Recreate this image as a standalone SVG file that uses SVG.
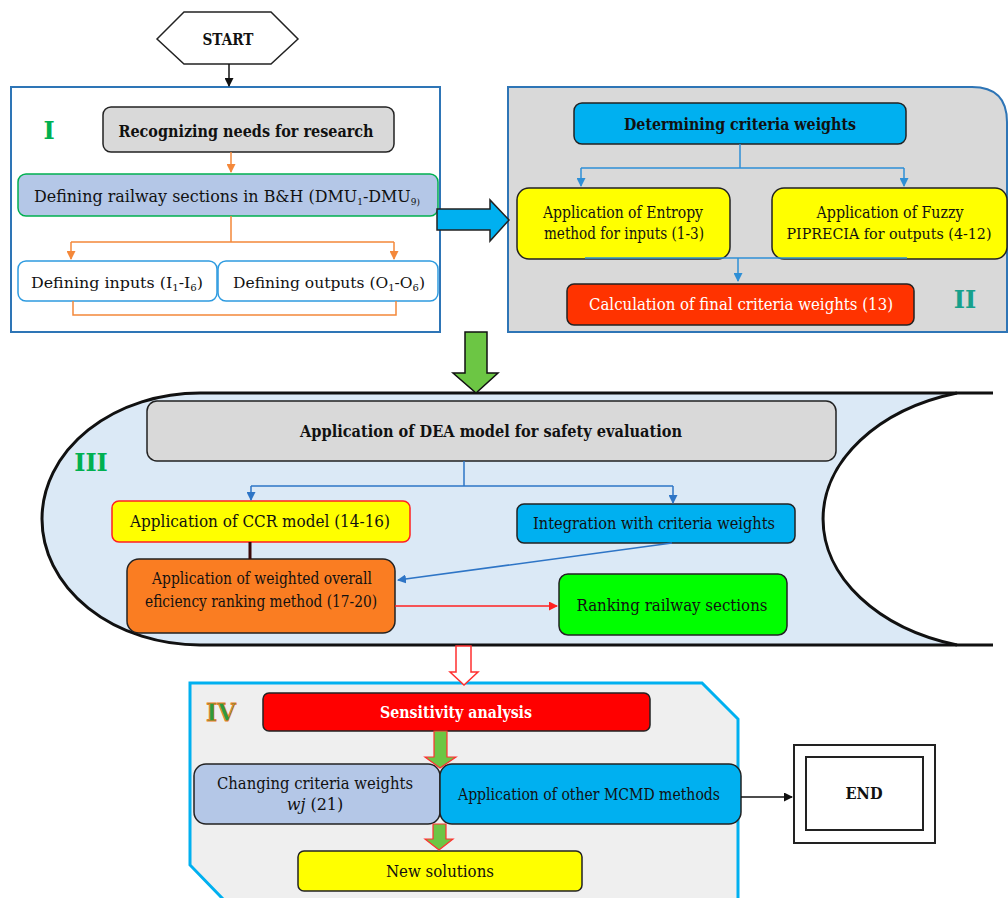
<svg xmlns="http://www.w3.org/2000/svg" width="1008" height="898" viewBox="0 0 1008 898">
<defs>
<style>
text{font-family:"DejaVu Serif","Liberation Serif",serif;font-size:16px;fill:#111;text-anchor:middle}
.b{font-weight:bold}
.s{font-size:14px}
.box{stroke:#222;stroke-width:1.5}
.lbl{font-size:24px;font-weight:bold}
.oc{fill:none;stroke:#f4883a;stroke-width:1.5}
.bc{fill:none;stroke:#2e8fd6;stroke-width:1.5}
.dc{fill:none;stroke:#2e75c6;stroke-width:1.5}
</style>
<marker id="mo" markerUnits="userSpaceOnUse" markerWidth="9" markerHeight="9" refX="8" refY="4.5" orient="auto"><path d="M0,0 L9,4.5 L0,9 z" fill="#f4883a"/></marker>
<marker id="mb" markerUnits="userSpaceOnUse" markerWidth="9" markerHeight="9" refX="8" refY="4.5" orient="auto"><path d="M0,0 L9,4.5 L0,9 z" fill="#2e8fd6"/></marker>
<marker id="md" markerUnits="userSpaceOnUse" markerWidth="9" markerHeight="9" refX="8" refY="4.5" orient="auto"><path d="M0,0 L9,4.5 L0,9 z" fill="#2e75c6"/></marker>
<marker id="mk" markerUnits="userSpaceOnUse" markerWidth="9" markerHeight="9" refX="8" refY="4.5" orient="auto"><path d="M0,0 L9,4.5 L0,9 z" fill="#111"/></marker>
<marker id="mr" markerUnits="userSpaceOnUse" markerWidth="9" markerHeight="9" refX="8" refY="4.5" orient="auto"><path d="M0,0 L9,4.5 L0,9 z" fill="#ff2020"/></marker>
</defs>

<!-- Panels -->
<g id="panel-I">
<rect x="11" y="87" width="429" height="245" fill="#fff" stroke="#2e75b6" stroke-width="2"/>
<text class="lbl" x="49" y="139" style="fill:#00b050">I</text>
</g>
<g id="panel-II">
<path d="M508 87 H972 Q1007 87 1007 122 V332 H508 Z" fill="#d9d9d9" stroke="#2e75b6" stroke-width="2"/>
<text class="lbl" x="965" y="308" style="fill:#17a08c">II</text>
</g>
<g id="panel-III">
<path d="M200 393 H993 V645 H200 A158 126 0 0 1 200 393 Z" fill="#dbe9f6" stroke="none"/>
<path d="M957 393 A187 131.4 0 0 0 957 645 L1008 645 L1008 393 Z" fill="#fff"/>
<path d="M993 393 H200 A158 126 0 0 0 200 645 H993" fill="none" stroke="#111" stroke-width="3"/>
<path d="M957 393 A187 131.4 0 0 0 957 645" fill="none" stroke="#111" stroke-width="3"/>
<text class="lbl" x="91" y="471" style="fill:#00b050">III</text>
</g>
<g id="panel-IV">
<path d="M190 683 H702 L738 719 V898 H223 L190 865 Z" fill="#efefef" stroke="none"/>
<path d="M223 899 L190 865 V683 H702 L738 719 V899" fill="none" stroke="#00b0f0" stroke-width="3"/>
<text class="lbl" x="221" y="721" style="fill:#2e9a3e;stroke:#f07a22;stroke-width:0.8">IV</text>
</g>

<!-- Nodes -->
<g id="start">
<polygon points="157,39 184,12 271,12 298,39 271,64 184,64" fill="#fff" stroke="#222" stroke-width="1.5"/>
<text class="b" x="228" y="45" textLength="51" lengthAdjust="spacingAndGlyphs">START</text>
</g>
<g id="recognizing">
<rect class="box" x="103" y="107" width="291" height="45" rx="8" fill="#d9d9d9"/>
<text class="b" x="246" y="137" textLength="255" lengthAdjust="spacingAndGlyphs">Recognizing needs for research</text>
</g>
<g id="defining-sections">
<rect x="18" y="174" width="420" height="42" rx="8" fill="#b4c7e7" stroke="#00b050" stroke-width="1.5"/>
<text x="227" y="202" textLength="386" lengthAdjust="spacingAndGlyphs">Defining railway sections in B&amp;H (DMU<tspan font-size="9" dy="3">1</tspan><tspan dy="-3">-DMU</tspan><tspan font-size="9" dy="3">9)</tspan></text>
</g>
<g id="defining-inputs">
<rect x="18" y="261" width="199" height="40" rx="8" fill="#fff" stroke="#2e9be0" stroke-width="1.5"/>
<text class="s" x="117" y="288" textLength="172" lengthAdjust="spacingAndGlyphs">Defining inputs (I<tspan font-size="9" dy="3">1</tspan><tspan dy="-3">-I</tspan><tspan font-size="9" dy="3">6</tspan><tspan dy="-3">)</tspan></text>
</g>
<g id="defining-outputs">
<rect x="218" y="261" width="220" height="40" rx="8" fill="#fff" stroke="#2e9be0" stroke-width="1.5"/>
<text class="s" x="329" y="288" textLength="192" lengthAdjust="spacingAndGlyphs">Defining outputs (O<tspan font-size="9" dy="3">1</tspan><tspan dy="-3">-O</tspan><tspan font-size="9" dy="3">6</tspan><tspan dy="-3">)</tspan></text>
</g>
<g id="determining">
<rect class="box" x="574" y="103" width="332" height="41" rx="8" fill="#00b0f0"/>
<text class="b" x="740" y="130" textLength="232" lengthAdjust="spacingAndGlyphs">Determining criteria weights</text>
</g>
<g id="entropy">
<rect class="box" x="517" y="188" width="213" height="71" rx="12" fill="#ffff00"/>
<text x="623" y="218" textLength="160" lengthAdjust="spacingAndGlyphs">Application of Entropy</text>
<text x="624" y="239" textLength="160" lengthAdjust="spacingAndGlyphs">method for inputs (1-3)</text>
</g>
<g id="fuzzy">
<rect class="box" x="772" y="188" width="235" height="71" rx="12" fill="#ffff00"/>
<text x="890" y="218" textLength="147" lengthAdjust="spacingAndGlyphs">Application of Fuzzy</text>
<text class="s" x="889" y="239" textLength="205" lengthAdjust="spacingAndGlyphs">PIPRECIA for outputs (4-12)</text>
</g>
<g id="calculation">
<rect class="box" x="567" y="284" width="347" height="41" rx="7" fill="#ff3300"/>
<text x="741" y="310" textLength="304" lengthAdjust="spacingAndGlyphs" style="fill:#fff">Calculation of final criteria weights (13)</text>
</g>
<g id="dea">
<rect class="box" x="147" y="401" width="689" height="60" rx="10" fill="#d9d9d9"/>
<text class="b" x="491" y="437" textLength="382" lengthAdjust="spacingAndGlyphs">Application of DEA model for safety evaluation</text>
</g>
<g id="ccr">
<rect x="112" y="501" width="298" height="41" rx="7" fill="#ffff00" stroke="#ff2020" stroke-width="1.5"/>
<text x="260" y="527" textLength="260" lengthAdjust="spacingAndGlyphs">Application of CCR model (14-16)</text>
</g>
<g id="weighted">
<rect class="box" x="127" y="559" width="268" height="74" rx="12" fill="#fa7d22"/>
<text x="262" y="584" textLength="220" lengthAdjust="spacingAndGlyphs">Application of weighted overall</text>
<text x="261" y="607" textLength="232" lengthAdjust="spacingAndGlyphs">eficiency ranking method (17-20)</text>
</g>
<g id="integration">
<rect class="box" x="517" y="504" width="278" height="39" rx="7" fill="#00b0f0"/>
<text x="654" y="529" textLength="242" lengthAdjust="spacingAndGlyphs">Integration with criteria weights</text>
</g>
<g id="ranking">
<rect class="box" x="559" y="574" width="228" height="61" rx="9" fill="#00ff00"/>
<text x="672" y="611" textLength="191" lengthAdjust="spacingAndGlyphs">Ranking railway sections</text>
</g>
<g id="sensitivity">
<rect class="box" x="263" y="693" width="387" height="38" rx="6" fill="#ff0000"/>
<text class="b" x="456" y="718" textLength="152" lengthAdjust="spacingAndGlyphs" style="fill:#fff">Sensitivity analysis</text>
</g>
<g id="changing">
<rect class="box" x="194" y="764" width="246" height="60" rx="12" fill="#b4c7e7"/>
<text x="315" y="789" textLength="196" lengthAdjust="spacingAndGlyphs">Changing criteria weights</text>
<text x="315" y="810"><tspan font-style="italic">wj</tspan> (21)</text>
</g>
<g id="mcmd">
<rect class="box" x="440" y="764" width="301" height="60" rx="12" fill="#00b0f0"/>
<text x="589" y="800" textLength="262" lengthAdjust="spacingAndGlyphs">Application of other MCMD methods</text>
</g>
<g id="new-solutions">
<rect class="box" x="298" y="851" width="284" height="40" rx="6" fill="#ffff00"/>
<text x="440" y="877" textLength="108" lengthAdjust="spacingAndGlyphs">New solutions</text>
</g>
<g id="end">
<rect x="794" y="745" width="141" height="98" fill="#fff" stroke="#222" stroke-width="2"/>
<rect x="806" y="757" width="117" height="73" fill="#fff" stroke="#222" stroke-width="2"/>
<text class="b" x="864" y="799" textLength="37" lengthAdjust="spacingAndGlyphs">END</text>
</g>

<!-- Connectors -->
<g id="connectors">
<path d="M229 64 V86" fill="none" stroke="#111" stroke-width="1.5" marker-end="url(#mk)"/>
<path class="oc" d="M231 152 V172" marker-end="url(#mo)"/>
<path class="oc" d="M231 216 V242 M71 242 H394"/>
<path class="oc" d="M71 242 V259" marker-end="url(#mo)"/>
<path class="oc" d="M394 242 V259" marker-end="url(#mo)"/>
<path class="oc" d="M73 301 V315 H396 V301"/>
<polygon points="437,209 490,209 490,200 509,220 490,241 490,230 437,230" fill="#00b0f0" stroke="#222" stroke-width="1.5"/>
<path class="bc" d="M740 144 V168 M581 168 H904"/>
<path class="bc" d="M581 168 V186" marker-end="url(#mb)"/>
<path class="bc" d="M904 168 V186" marker-end="url(#mb)"/>
<path class="bc" d="M585 258 H907"/>
<path class="bc" d="M738 258 V281" marker-end="url(#mb)"/>
<polygon points="465,332 487,332 487,373 498,373 476,393 453,373 465,373" fill="#6cc644" stroke="#111" stroke-width="1.5"/>
<path class="dc" d="M464 461 V486 M251 486 H673"/>
<path class="dc" d="M251 486 V500" marker-end="url(#md)"/>
<path class="dc" d="M673 486 V503" marker-end="url(#md)"/>
<path d="M250 542 V559" fill="none" stroke="#3a0a0a" stroke-width="3"/>
<path class="dc" d="M672 543 L398 580" marker-end="url(#md)"/>
<path d="M395 606 H557" fill="none" stroke="#ff2020" stroke-width="1.5" marker-end="url(#mr)"/>
<polygon points="456,646 471,646 471,672 478,672 464,685 450,672 456,672" fill="#fff" stroke="#ff3030" stroke-width="1.5"/>
<polygon points="434,731 447,731 447,757 456,757 440,768 425,757 434,757" fill="#6cc644" stroke="#ff3030" stroke-width="1.2"/>
<polygon points="433,824 446,824 446,839 453,839 439,850 425,839 433,839" fill="#6cc644" stroke="#ff3030" stroke-width="1.2"/>
<path d="M741 797 H792" fill="none" stroke="#111" stroke-width="1.5" marker-end="url(#mk)"/>
</g>
</svg>
